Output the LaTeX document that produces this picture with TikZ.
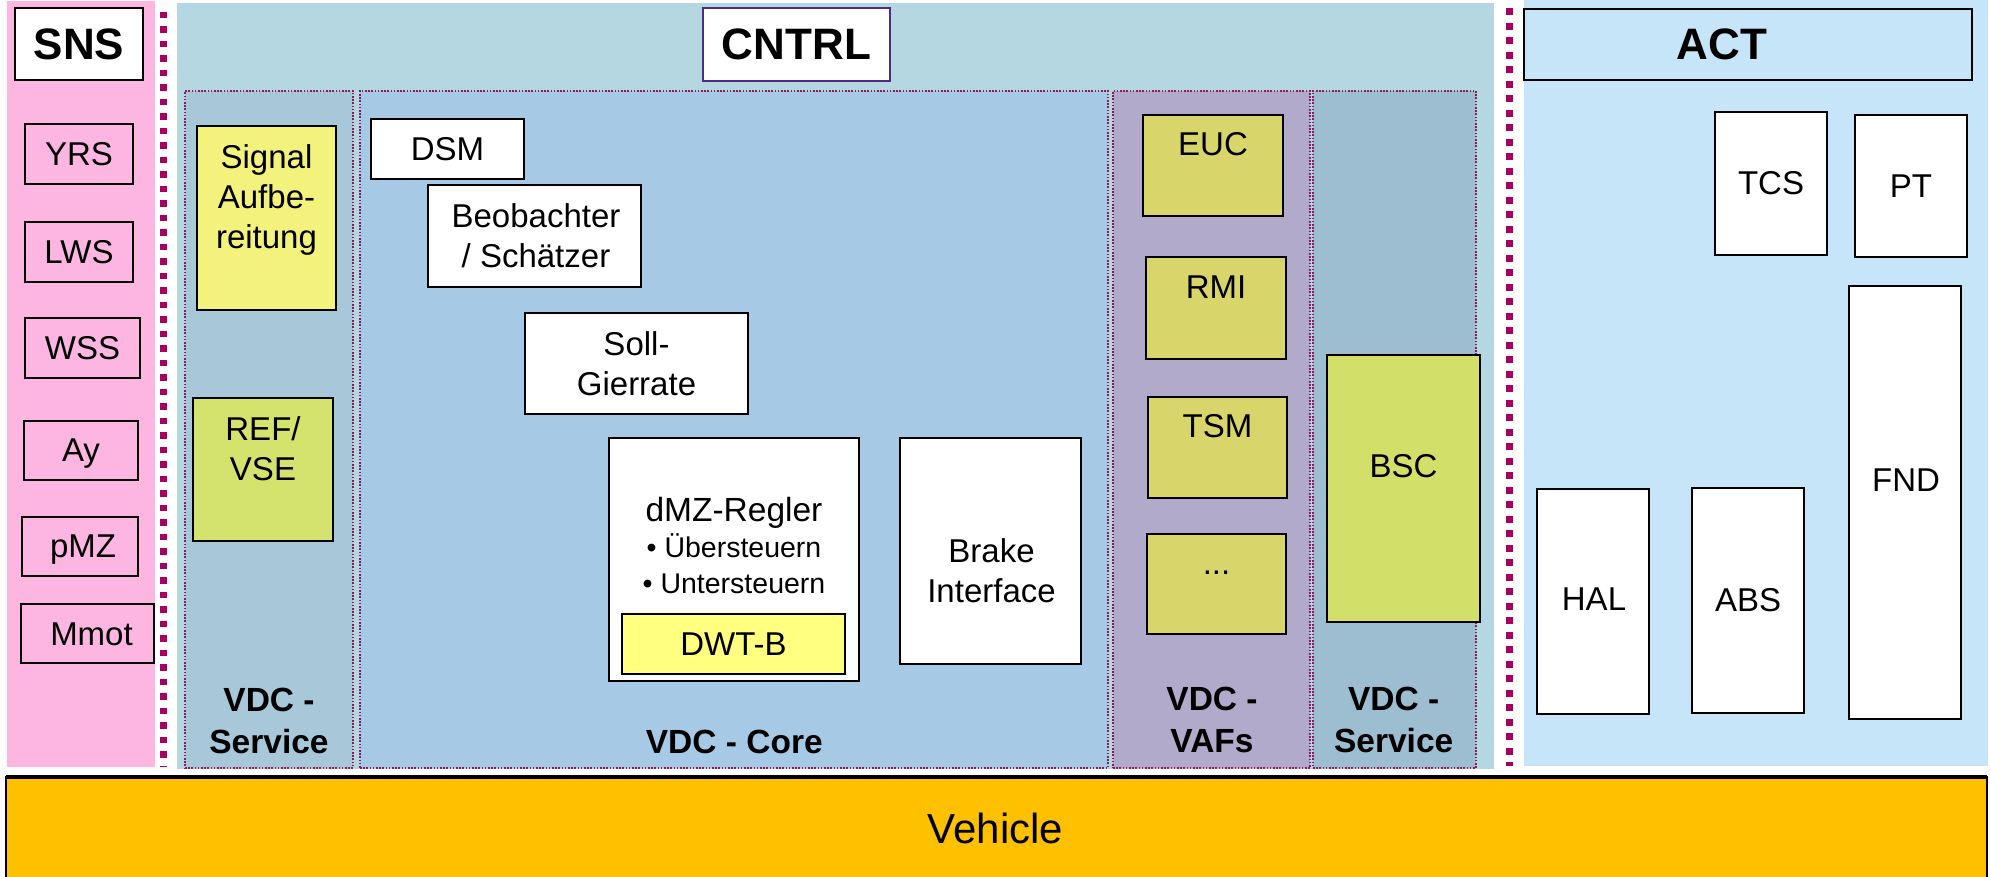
\documentclass[tikz,border=0pt]{standalone}
\usepackage{fontspec}
\setmainfont{Liberation Sans}
\definecolor{pinkbg}{HTML}{FDB6E1}
\definecolor{dotmag}{HTML}{A8005F}
\definecolor{cntrlbg}{HTML}{B4D7E2}
\definecolor{svcbg}{HTML}{A8C8DA}
\definecolor{corebg}{HTML}{A6CAE6}
\definecolor{vafbg}{HTML}{B2AACB}
\definecolor{svcbgb}{HTML}{9DBDD0}
\definecolor{actbg}{HTML}{C7E5F9}
\definecolor{sigyel}{HTML}{F2F27C}
\definecolor{refgrn}{HTML}{D4E26E}
\definecolor{vafbox}{HTML}{D8D56B}
\definecolor{bscgrn}{HTML}{D2E06A}
\definecolor{dwtyel}{HTML}{FFFF80}
\definecolor{vehic}{HTML}{FFC000}
\definecolor{cntrlbd}{HTML}{4E2A84}
\definecolor{dotbd}{HTML}{8C1A5B}
\newcommand\myfs[2]{\fontsize{#1}{#2}\selectfont}
\newcommand\pbox[8][]{%
  \pgfmathsetmacro\pbw{#5-#3}%
  \pgfmathsetmacro\pbh{#6-#4}%
  \pgfmathsetmacro\pbx{(#3+#5)/2}%
  \pgfmathsetmacro\pby{-(#4+#6)/2}%
  \node[box,minimum width=\pbw pt,minimum height=\pbh pt,#1,label={[lab,#7]center:{#8}}] (#2) at (\pbx pt,\pby pt) {};%
}
\tikzset{
  box/.style={draw=black,line width=2pt,inner sep=0pt,outer sep=0pt},
  bgpanel/.style={draw=none},
  dotpanel/.style={draw=dotbd,line width=1.6pt,dash pattern=on 1.6pt off 1.6pt},
  lab/.style={inner sep=0pt,outer sep=0pt,align=center},
  boldlab/.style={lab,font=\bfseries\myfs{33.5pt}{42pt}},
  headfont/.style={font=\bfseries\myfs{44pt}{50pt}},
  magdots/.style={draw=dotmag,line width=6.7pt,dash pattern=on 6.7pt off 7.8pt},
}
\begin{document}
\begin{tikzpicture}[font=\myfs{33pt}{40pt}]
\useasboundingbox (0pt,0pt) rectangle (1990pt,-877pt);
\fill[white] (0pt,0pt) rectangle (1990pt,-877pt);
% background panels
\pbox[bgpanel,fill=pinkbg]{snspanel}{7}{1}{155}{767}{}{}
\pbox[bgpanel,fill=cntrlbg]{cntrlpanel}{177}{3}{1494}{769}{}{}
\pbox[bgpanel,fill=actbg]{actpanel}{1524}{0}{1988}{766}{}{}
% dotted sub-panels
\pbox[dotpanel,fill=svcbg]{svca}{185}{91}{353}{768}{}{}
\pbox[dotpanel,fill=corebg]{core}{360}{91}{1108}{768}{}{}
\pbox[dotpanel,fill=vafbg]{vafs}{1113}{91}{1310}{768}{}{}
\pbox[dotpanel,fill=svcbgb]{svcb}{1313}{91}{1476}{768}{}{}
% magenta separators
\coordinate (mla) at (163.3pt,-11.7pt);
\coordinate (mlb) at (163.3pt,-767pt);
\coordinate (mra) at (1509.7pt,-8.4pt);
\coordinate (mrb) at (1509.7pt,-766pt);
\draw[magdots] (mla) -- (mlb);
\draw[magdots] (mra) -- (mrb);
% headers
\pbox[fill=white]{snshead}{15}{8}{143}{80}{headfont}{SNS}
\pbox[fill=white,draw=cntrlbd]{cntrlhead}{703}{8}{890}{81}{headfont}{CNTRL}
\pbox[fill=actbg]{acthead}{1524}{9.5}{1972}{80}{headfont,shift={(-26pt,0pt)}}{ACT}
% SNS
\pbox[fill=pinkbg]{yrs}{25}{124}{133}{184}{}{YRS}
\pbox[fill=pinkbg]{lws}{25}{222}{133}{282}{}{LWS}
\pbox[fill=pinkbg]{wss}{25}{318}{140}{378}{}{WSS}
\pbox[fill=pinkbg]{ay}{24}{421}{138}{480}{shift={(0pt,-3.5pt)}}{Ay}
\pbox[fill=pinkbg]{pmz}{22}{517}{138}{576}{shift={(3pt,-3.5pt)}}{pMZ}
\pbox[fill=pinkbg]{mmot}{21}{604}{154}{663}{shift={(4pt,-1pt)}}{Mmot}
% VDC Service (left)
\pbox[fill=sigyel]{sig}{197}{126}{336}{310}{shift={(0pt,18.5pt)}}{Signal\\Aufbe-\\reitung}
\pbox[fill=refgrn]{ref}{193}{398}{333}{541}{shift={(0pt,21pt)}}{REF/\\VSE}
\node[boldlab] (svcalab) at (269pt,-720.5pt) {VDC -\\Service};
% VDC Core
\pbox[fill=white]{dsm}{371}{119}{524}{179}{}{DSM}
\pbox[fill=white]{beo}{428}{185}{641}{287}{shift={(1.5pt,0pt)}}{Beobachter\\/ Schätzer}
\pbox[fill=white]{soll}{525}{313}{748}{414}{}{Soll-\\Gierrate}
\pbox[fill=white]{dmz}{609}{438}{859}{681}{shift={(0pt,14pt)},font=\myfs{28.5pt}{35.5pt}}{{\myfs{33.5pt}{36pt}dMZ-Regler}\\• Übersteuern\\• Untersteuern}
\pbox[fill=dwtyel]{dwt}{622}{614}{845}{674}{}{DWT-B}
\pbox[fill=white]{brake}{900}{438}{1081}{664}{shift={(1pt,-20pt)}}{Brake\\Interface}
\node[boldlab] (corelab) at (734.3pt,-741.5pt) {VDC - Core};
% VAFs
\pbox[fill=vafbox]{euc}{1143}{115}{1283}{216}{shift={(0pt,21.5pt)}}{EUC}
\pbox[fill=vafbox]{rmi}{1146}{257}{1286}{359}{shift={(0pt,20.5pt)}}{RMI}
\pbox[fill=vafbox]{tsm}{1148}{397}{1287}{498}{shift={(0pt,21pt)}}{TSM}
\pbox[fill=vafbox]{more}{1147}{534}{1286}{634}{shift={(0pt,11pt)}}{...}
\node[boldlab] (vafslab) at (1212pt,-720pt) {VDC -\\VAFs};
% VDC Service (right)
\pbox[fill=bscgrn]{bsc}{1327}{355}{1480}{622}{shift={(0pt,22.5pt)}}{BSC}
\node[boldlab] (svcblab) at (1393.7pt,-720pt) {VDC -\\Service};
% ACT
\pbox[fill=white]{tcs}{1715}{112}{1827}{255}{}{TCS}
\pbox[fill=white]{pt}{1855}{115}{1967}{257}{}{PT}
\pbox[fill=white]{fnd}{1849}{286}{1961}{719}{shift={(1pt,22.5pt)}}{FND}
\pbox[fill=white]{hal}{1537}{489}{1649}{714}{shift={(1pt,2.5pt)}}{HAL}
\pbox[fill=white]{abs}{1692}{488}{1804}{713}{}{ABS}
% Vehicle
\pbox[fill=vehic]{veh}{6}{777}{1987}{880}{font=\myfs{42pt}{48pt},shift={(-1pt,0pt)}}{Vehicle}
\draw[line width=3.5pt] (veh.north west) -- (veh.north east);
\end{tikzpicture}
\end{document}
